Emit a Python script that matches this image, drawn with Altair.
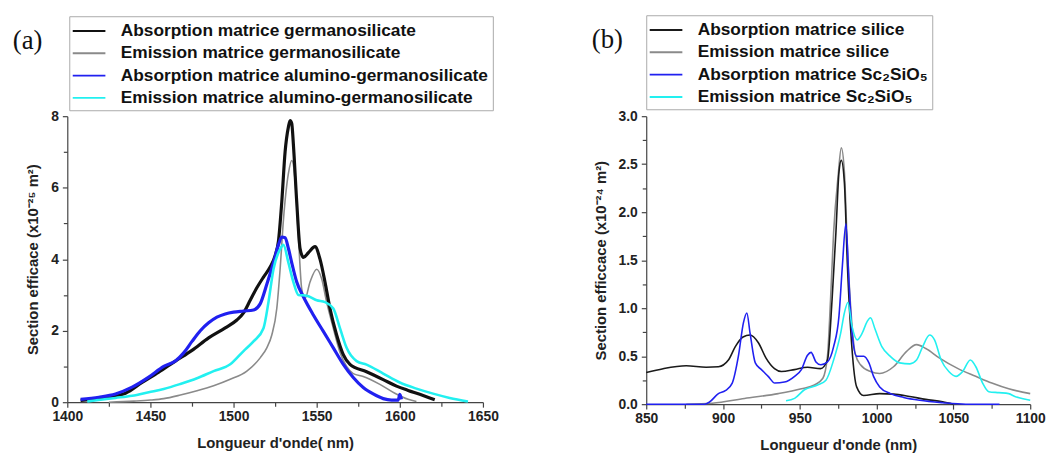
import altair as alt
import pandas as pd

# ---------------- Panel (a) data ----------------
a_names = [
    "Absorption matrice germanosilicate",
    "Emission matrice germanosilicate",
    "Absorption matrice alumino-germanosilicate",
    "Emission matrice alumino-germanosilicate",
]
a_colors = ["#111111", "#8a8a8a", "#2020f0", "#22f0f0"]

a_abs_ge_w = [1408, 1420, 1430, 1435, 1445, 1455, 1465, 1475, 1485, 1495, 1502, 1506, 1510, 1514, 1518,
              1522, 1525, 1527, 1529, 1531, 1533, 1534, 1535, 1536, 1538, 1540, 1542, 1545, 1549, 1552,
              1555, 1558, 1562, 1566, 1570, 1580, 1590, 1598, 1605, 1612, 1618, 1621]
a_abs_ge_v = [0.05, 0.10, 0.18, 0.25, 0.55, 0.84, 1.15, 1.45, 1.80, 2.08, 2.30, 2.50, 2.85, 3.20, 3.50,
              3.78, 4.10, 4.50, 5.60, 7.00, 7.70, 7.88, 7.80, 7.20, 5.60, 4.30, 4.05, 4.18, 4.35, 4.00,
              3.36, 2.62, 1.88, 1.33, 1.06, 0.85, 0.63, 0.45, 0.33, 0.22, 0.12, 0.07]

a_em_ge_w = [1425, 1440, 1450, 1458, 1468, 1478, 1488, 1498, 1508, 1516, 1520, 1523, 1526, 1528, 1530,
             1533, 1535, 1537, 1539, 1541, 1543, 1546, 1550, 1553, 1556, 1560, 1564, 1568, 1572, 1578,
             1588, 1597, 1605, 1610]
a_em_ge_v = [0.00, 0.03, 0.06, 0.10, 0.20, 0.32, 0.46, 0.64, 0.87, 1.24, 1.52, 1.88, 2.62, 3.72, 5.10,
             6.40, 6.76, 6.20, 4.64, 3.17, 2.90, 3.36, 3.72, 3.45, 2.80, 2.07, 1.40, 1.00, 0.80, 0.72,
             0.50, 0.25, 0.08, 0.02]

a_abs_al_w = [1408, 1419, 1429, 1439, 1449, 1458, 1465, 1470, 1475, 1480, 1485, 1490, 1495, 1500, 1506,
              1512, 1516, 1520, 1524, 1527, 1529, 1531, 1533, 1535, 1538, 1542, 1548, 1554, 1560, 1566,
              1572, 1578, 1584, 1590, 1595, 1599, 1600, 1601]
a_abs_al_v = [0.08, 0.14, 0.23, 0.42, 0.70, 1.00, 1.15, 1.38, 1.70, 2.00, 2.22, 2.38, 2.47, 2.52, 2.55,
              2.58, 2.75, 3.30, 3.90, 4.40, 4.62, 4.60, 4.30, 3.90, 3.36, 2.95, 2.44, 1.98, 1.52, 1.06,
              0.69, 0.41, 0.23, 0.10, 0.06, 0.06, 0.22, 0.08]

a_em_al_w = [1412, 1420, 1429, 1439, 1449, 1458, 1468, 1478, 1488, 1498, 1506, 1512, 1518, 1521, 1524,
             1528, 1530, 1533, 1536, 1539, 1544, 1550, 1555, 1560, 1564, 1568, 1574, 1580, 1590, 1600,
             1610, 1620, 1630, 1641]
a_em_al_v = [0.02, 0.07, 0.12, 0.18, 0.28, 0.37, 0.51, 0.67, 0.87, 1.06, 1.43, 1.70, 2.07, 2.80, 3.72,
             4.28, 4.40, 3.90, 3.36, 3.00, 2.98, 2.85, 2.80, 2.62, 2.07, 1.52, 1.15, 1.05, 0.80, 0.55,
             0.38, 0.24, 0.12, 0.02]

# ---------------- Panel (b) data ----------------
b_names = [
    "Absorption matrice silice",
    "Emission matrice silice",
    "Absorption matrice Sc\u2082SiO\u2085",
    "Emission matrice Sc\u2082SiO\u2085",
]
b_colors = ["#1a1a1a", "#8a8a8a", "#2020f0", "#22f0f0"]

b_abs_si_w = [850, 861, 876, 889, 897, 903.5, 908, 913, 917.5, 923, 928, 933.5, 938, 946.5, 955, 963.5,
              968, 971, 973.5, 975.5, 977, 979, 981, 984, 987, 991.5, 1002, 1011, 1021.5, 1032, 1043, 1050]
b_abs_si_v = [0.33, 0.37, 0.40, 0.385, 0.39, 0.46, 0.60, 0.70, 0.72, 0.64, 0.48, 0.37, 0.34, 0.36, 0.385,
              0.37, 0.46, 1.09, 1.79, 2.42, 2.54, 2.31, 1.44, 0.57, 0.18, 0.09, 0.11, 0.105, 0.08, 0.05,
              0.025, 0.0]

b_em_si_w = [876, 893, 914, 936, 951, 959.5, 965, 968, 970, 972, 975, 977, 979, 981, 983.5, 986, 989.5,
             996, 1002, 1011, 1019.5, 1026, 1032, 1041, 1053, 1064.5, 1075, 1086, 1100]
b_em_si_v = [0.0, 0.01, 0.06, 0.11, 0.16, 0.20, 0.27, 0.50, 1.09, 1.79, 2.39, 2.67, 2.42, 1.62, 0.92,
             0.53, 0.41, 0.34, 0.32, 0.39, 0.55, 0.62, 0.58, 0.48, 0.37, 0.29, 0.22, 0.16, 0.11]

b_abs_sc_w = [850, 870, 888, 891, 897, 901.5, 906, 910, 913.3, 915.5, 917.6, 921, 925, 929.4, 933.7, 940,
              946.6, 951, 955, 957.3, 960.5, 963.7, 968, 972, 975.5, 977.7, 980, 982, 984, 987, 991.6,
              995, 998, 1002, 1009, 1017.6, 1028, 1043, 1058, 1080]
b_abs_sc_v = [0.0, 0.0, 0.0, 0.02, 0.11, 0.14, 0.22, 0.50, 0.85, 0.95, 0.74, 0.43, 0.36, 0.29, 0.22, 0.23,
              0.29, 0.36, 0.51, 0.54, 0.44, 0.41, 0.44, 0.60, 0.92, 1.44, 1.88, 1.27, 0.74, 0.50, 0.50,
              0.43, 0.29, 0.18, 0.11, 0.07, 0.04, 0.015, 0.0, 0.0]

b_em_sc_w = [941, 946.6, 953, 961.6, 967, 972, 976.6, 979, 981.3, 984, 987.3, 990.6, 993.8, 996, 999,
             1003.4, 1008.8, 1015, 1021.7, 1026, 1030, 1034.5, 1037.7, 1042, 1047, 1051.7, 1056, 1061,
             1064.6, 1069, 1073, 1079.6, 1086, 1090, 1094.6, 1100]
b_em_sc_v = [0.035, 0.06, 0.15, 0.20, 0.25, 0.46, 0.74, 0.95, 1.06, 0.81, 0.67, 0.74, 0.86, 0.90, 0.78,
             0.60, 0.50, 0.43, 0.42, 0.46, 0.60, 0.72, 0.67, 0.46, 0.34, 0.29, 0.34, 0.46, 0.39, 0.22,
             0.13, 0.12, 0.11, 0.08, 0.06, 0.04]

a_x_ticks = list(range(1400, 1651, 25))
a_y_ticks = list(range(0, 9))
b_x_ticks = list(range(850, 1101, 25))
b_y_ticks = [i * 0.25 for i in range(13)]

FONT = "Liberation Sans"


def frame(name, w, v):
    return pd.DataFrame({"wl": w, "val": v, "series": name})


def panel(names, colors, series, widths, xdom, ydom, xticks, yticks, xtitle, ytitle,
          ylabel_expr, yformat, legend_x, legend_y, w, h, tag):
    cscale = alt.Scale(domain=names, range=colors)
    legend = alt.Legend(
        title=None, orient="none", legendX=legend_x, legendY=legend_y,
        symbolType="M-1.65,0L1.65,0", symbolSize=400, symbolStrokeWidth=2,
        symbolOffset=5, labelOffset=21,
        labelFont=FONT, labelFontWeight="bold", labelFontSize=17.5, labelColor="#111",
        labelLimit=600, rowPadding=2.5,
        strokeColor="#aaaaaa", fillColor="white", padding=4,
    )
    xaxis = alt.Axis(
        values=xticks, format="d", labelExpr="datum.value % 50 === 0 ? datum.label : ''",
        title=xtitle, labelFlush=False, labelOverlap=False,
        tickSize={"condition": {"test": "datum.value % 50 === 0", "value": 5}, "value": 4},
        titlePadding=12, labelPadding=3,
    )
    yaxis = alt.Axis(
        values=yticks, format=yformat, labelExpr=ylabel_expr,
        title=ytitle, labelFlush=False, labelOverlap=False,
        tickSize={"condition": {"test": ylabel_expr.split(" ?")[0], "value": 5}, "value": 4},
        titlePadding=10, labelPadding=4,
    )
    layers = []
    order = [1, 0, 2, 3]
    for idx in order:
        df = series[idx]
        layers.append(
            alt.Chart(df).mark_line(strokeWidth=widths[idx], interpolate="monotone").encode(
                x=alt.X("wl:Q", scale=alt.Scale(domain=xdom, nice=False, zero=False), axis=xaxis),
                y=alt.Y("val:Q", scale=alt.Scale(domain=ydom, nice=False), axis=yaxis),
                color=alt.Color("series:N", scale=cscale, legend=legend),
            )
        )
    return alt.layer(*layers).properties(
        width=w, height=h,
        title=alt.TitleParams(tag, anchor="start", frame="group", font="Liberation Serif",
                              fontSize=27, fontWeight="normal", color="#111", dx=-55, dy=44),
    )


a_series = [frame(a_names[0], a_abs_ge_w, a_abs_ge_v), frame(a_names[1], a_em_ge_w, a_em_ge_v),
            frame(a_names[2], a_abs_al_w, a_abs_al_v), frame(a_names[3], a_em_al_w, a_em_al_v)]
b_series = [frame(b_names[0], b_abs_si_w, b_abs_si_v), frame(b_names[1], b_em_si_w, b_em_si_v),
            frame(b_names[2], b_abs_sc_w, b_abs_sc_v), frame(b_names[3], b_em_sc_w, b_em_sc_v)]

pa = panel(a_names, a_colors, a_series, [3.2, 1.6, 3.2, 2.6], [1400, 1650], [0, 8],
           a_x_ticks, a_y_ticks, "Longueur d'onde( nm)", "Section efficace (x10\u207b\u00b2\u2075 m\u00b2)",
           "datum.value % 2 === 0 ? datum.label : ''", "d", 2, -101, 420, 289, "(a)")
pb = panel(b_names, b_colors, b_series, [1.6, 1.6, 1.6, 1.6], [850, 1100], [0, 3],
           b_x_ticks, b_y_ticks, "Longueur d'onde (nm)", "Section efficcace (x10\u207b\u00b2\u2074 m\u00b2)",
           "(datum.value * 4) % 2 === 0 ? datum.label : ''", ".1f", 0, -102, 388, 291, "(b)")

chart = alt.hconcat(pa, pb, spacing=165, bounds="flush").resolve_scale(color="independent").properties(
    padding={"left": 13, "top": 12, "right": 5, "bottom": 5}
).configure(
    background="white",
).configure_view(
    stroke=None,
).configure_axis(
    grid=False, domainColor="#444", tickColor="#444", domainWidth=1.2, tickWidth=1.2,
    labelFont=FONT, labelFontWeight="bold", labelFontSize=14, labelColor="#222",
    titleFont=FONT, titleFontWeight="bold", titleFontSize=15, titleColor="#222",
)

chart.save("out.html", embed_options={"renderer": "svg", "actions": False})
